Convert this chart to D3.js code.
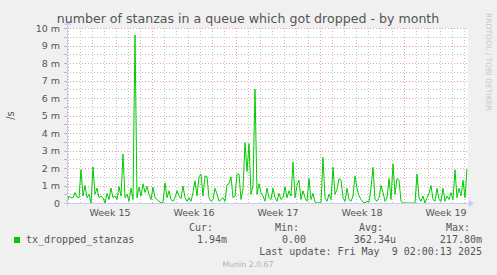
<!DOCTYPE html>
<html>
<head>
<meta charset="utf-8">
<script src="https://cdn.jsdelivr.net/npm/d3@7"></script>
<style>
  body { margin: 0; background: #f0f0f0; }
  svg { display: block; }
</style>
</head>
<body>
<span></span>
<script>
let width = 497;
let height = 275;

// data: one value every 4 hours, in milli-stanzas per second
let startTime = new Date(Date.UTC(2025, 3, 6, 22, 0));
let endTime = new Date(Date.UTC(2025, 4, 10, 6, 0));
let stepHours = 4;
let droppedValues = [
    0.1, 0.4, 0.3, 0.3, 0.6, 0.35, 0.3, 1.9, 0.4, 1.0,
    0.3, 0.5, 0, 2.05, 0.5, 0.85, 0.3, 0.4, 0.3, 0,
    0.55, 0.2, 0.85, 0.3, 0.4, 0.2, 0.95, 0.4, 2.8, 0.3,
    0.5, 0.1, 0.85, 0.2, 9.6, 0.3, 0.9, 0.4, 1.1, 0.6,
    0.95, 0.5, 0.2, 0.9, 0.3, 0.2, 0.1, 0, 0.05, 1.15,
    0.3, 0.7, 0.2, 0.1, 0.3, 0.7, 0.4, 0.25, 0.97, 0.3,
    0.1, 0.3, 0.1, 0.6, 1.27, 0.4, 1.5, 1.65, 0.4, 1.55,
    1.5, 0.3, 0.1, 0.2, 0.84, 0.5, 0.1, 0.2, 0.3, 0.1,
    1.03, 1.1, 1.5, 0.3, 0.4, 1.65, 1.65, 0.2, 0.8, 3.45,
    1.8, 3.4, 0.5, 1.0, 6.5, 0.5, 1.1, 0.6, 0.4, 0.1,
    0.85, 0.3, 0.2, 0.84, 0.3, 0.1, 0.55, 0.2, 0.3, 0.93,
    0.3, 0.7, 0.4, 2.34, 0.3, 1.0, 1.3, 0.2, 0.7, 0.3,
    0.1, 1.4, 0.2, 0.55, 0.05, 0, 0, 0.05, 2.6, 0.3,
    0.1, 0.5, 0.2, 2.04, 0.5, 0.77, 1.4, 1.3, 0.3, 0.1,
    0.84, 0.2, 0.1, 0.4, 1.55, 0.84, 0.4, 0.2, 0.05, 0,
    0.1, 0.05, 0.84, 2.04, 0.2, 0.1, 0.3, 1.0, 0.6, 0.1,
    0.3, 1.4, 0.2, 2.23, 0.5, 1.4, 1.3, 0.1, 0, 0,
    0, 0, 0, 0, 0, 1.65, 0.3, 0.1, 0.4, 0,
    0.3, 0.55, 1.0, 0.2, 0.1, 0.84, 0.2, 0.1, 0.84, 0.1,
    0.4, 0.2, 0.6, 0.2, 1.9, 0.3, 0.84, 0.4, 1.3, 0.3,
    1.94
];

let yTickValues = [0, 1, 2, 3, 4, 5, 6, 7, 8, 9, 10];
let yTickLabels = ["0", "1 m", "2 m", "3 m", "4 m", "5 m", "6 m", "7 m", "8 m", "9 m", "10 m"];
let weekLabels = ["Week 15", "Week 16", "Week 17", "Week 18", "Week 19"];

let seriesName = "tx_dropped_stanzas";
let legendHeaders = ["Cur:", "Min:", "Avg:", "Max:"];
let legendValues = ["1.94m", "0.00", "362.34u", "217.80m"];
let lastUpdate = "Last update: Fri May  9 02:00:13 2025";

let plotLeft = 67, plotRight = 467, plotTop = 28, plotBottom = 203;

let svg = d3.select("span")
    .append("svg")
    .attr("width", width)
    .attr("height", height)
    .style("font-family", "'DejaVu Sans', sans-serif");

let x = d3.scaleUtc().domain([startTime, endTime]).range([plotLeft, plotRight]);
let y = d3.scaleLinear().domain([0, 10]).range([plotBottom, plotTop]);

let points = droppedValues.map((v, i) => ({
    t: new Date(startTime.getTime() + i * stepHours * 3600 * 1000),
    v: v
}));

// canvas
svg.append("rect")
    .attr("x", plotLeft).attr("y", plotTop)
    .attr("width", plotRight - plotLeft + 1).attr("height", plotBottom - plotTop)
    .style("fill", "#ffffff");

// minor grid
let halfTicks = d3.range(0.5, 10, 1);
svg.selectAll(".hminor").data(halfTicks).enter().append("line")
    .attr("x1", plotLeft).attr("x2", plotRight + 1)
    .attr("y1", d => Math.round(y(d)) + 0.5).attr("y2", d => Math.round(y(d)) + 0.5)
    .style("stroke", "#c0c0c0").style("stroke-dasharray", "1,2");

let days = d3.utcDay.range(startTime, endTime).filter(d => d.getUTCDay() !== 1);
svg.selectAll(".vminor").data(days).enter().append("line")
    .attr("x1", d => Math.round(x(d)) + 0.5).attr("x2", d => Math.round(x(d)) + 0.5)
    .attr("y1", plotTop).attr("y2", plotBottom)
    .style("stroke", "#c0c0c0").style("stroke-dasharray", "1,2");

// major grid
svg.selectAll(".hmajor").data(yTickValues.slice(1)).enter().append("line")
    .attr("x1", plotLeft).attr("x2", plotRight + 1)
    .attr("y1", d => Math.round(y(d)) + 0.5).attr("y2", d => Math.round(y(d)) + 0.5)
    .style("stroke", "#eaa0a0").style("stroke-dasharray", "1,2");

let mondays = d3.utcMonday.range(startTime, endTime);
svg.selectAll(".vmajor").data(mondays).enter().append("line")
    .attr("x1", d => Math.round(x(d)) + 0.5).attr("x2", d => Math.round(x(d)) + 0.5)
    .attr("y1", plotTop).attr("y2", plotBottom)
    .style("stroke", "#eaa0a0").style("stroke-dasharray", "1,2");

// y tick marks
svg.selectAll(".ytick").data(d3.range(0, 10.5, 0.5)).enter().append("line")
    .attr("x1", plotLeft - 3).attr("x2", plotLeft)
    .attr("y1", d => Math.round(y(d)) + 0.5).attr("y2", d => Math.round(y(d)) + 0.5)
    .style("stroke", "#b8b8c8");

// y labels
svg.selectAll(".ylab").data(yTickValues).enter().append("text")
    .attr("x", 60).attr("y", d => y(d) + 3.5)
    .attr("text-anchor", "end")
    .style("font-size", "9.5px").style("fill", "#555")
    .text((d, i) => yTickLabels[i]);

// week labels (centered between Mondays)
svg.selectAll(".xlab").data(mondays).enter().append("text")
    .attr("x", d => x(d3.utcHour.offset(d, 84)))
    .attr("y", 215.5)
    .attr("text-anchor", "middle")
    .style("font-size", "9.5px").style("fill", "#555")
    .text((d, i) => weekLabels[i]);

// data line
let line = d3.line().x(d => x(d.t)).y(d => y(d.v));
svg.append("path")
    .attr("d", line(points))
    .style("fill", "none")
    .style("stroke", "#00cc00")
    .style("stroke-width", 1);

// axes with arrows
svg.append("line")
    .attr("x1", plotLeft - 3).attr("x2", plotRight + 4)
    .attr("y1", plotBottom + 0.5).attr("y2", plotBottom + 0.5)
    .style("stroke", "#c8cef0");
svg.append("line")
    .attr("x1", plotLeft + 0.5).attr("x2", plotLeft + 0.5)
    .attr("y1", plotBottom + 3).attr("y2", plotTop - 5)
    .style("stroke", "#c8cef0");
svg.append("path")
    .attr("d", `M${plotRight + 2},${plotBottom - 3}L${plotRight + 7},${plotBottom + 0.5}L${plotRight + 2},${plotBottom + 4}Z`)
    .style("fill", "#c8cef0");
svg.append("path")
    .attr("d", `M${plotLeft - 3},${plotTop - 3}L${plotLeft + 0.5},${plotTop - 8}L${plotLeft + 4},${plotTop - 3}Z`)
    .style("fill", "#c8cef0");

// title and side texts
svg.append("text")
    .attr("x", 248).attr("y", 23)
    .attr("text-anchor", "middle")
    .style("font-size", "12.6px").style("fill", "#555")
    .text("number of stanzas in a queue which got dropped - by month");

svg.append("text")
    .attr("transform", "translate(14,115.5) rotate(-90)")
    .attr("text-anchor", "middle")
    .style("font-size", "10px").style("fill", "#555")
    .text("/s");

svg.append("text")
    .attr("transform", "translate(486,13) rotate(90)")
    .style("font-size", "7.6px").style("fill", "#c8c8c8")
    .text("RRDTOOL / TOBI OETIKER");

// legend
let mono = "'DejaVu Sans Mono', monospace";
svg.append("rect")
    .attr("x", 14).attr("y", 237).attr("width", 6).attr("height", 6)
    .style("fill", "#00cc00");
svg.append("text")
    .attr("x", 26).attr("y", 243)
    .style("font-family", mono).style("font-size", "10px").style("fill", "#555")
    .text(seriesName);

let headerEnds = [213, 299, 383, 470];
let valueEnds = [227, 306, 396, 482];
legendHeaders.forEach(function (h, i) {
    svg.append("text")
        .attr("x", headerEnds[i]).attr("y", 231)
        .attr("text-anchor", "end")
        .style("font-family", mono).style("font-size", "10px").style("fill", "#555")
        .text(h);
    svg.append("text")
        .attr("x", valueEnds[i]).attr("y", 243)
        .attr("text-anchor", "end")
        .style("font-family", mono).style("font-size", "10px").style("fill", "#555")
        .text(legendValues[i]);
});

svg.append("text")
    .attr("x", 482).attr("y", 255)
    .attr("text-anchor", "end")
    .style("font-family", mono).style("font-size", "10px").style("fill", "#555")
    .style("white-space", "pre")
    .text(lastUpdate);

svg.append("text")
    .attr("x", 248).attr("y", 267)
    .attr("text-anchor", "middle")
    .style("font-size", "7.8px").style("fill", "#b0b0b0")
    .text("Munin 2.0.67");
</script>
</body>
</html>
